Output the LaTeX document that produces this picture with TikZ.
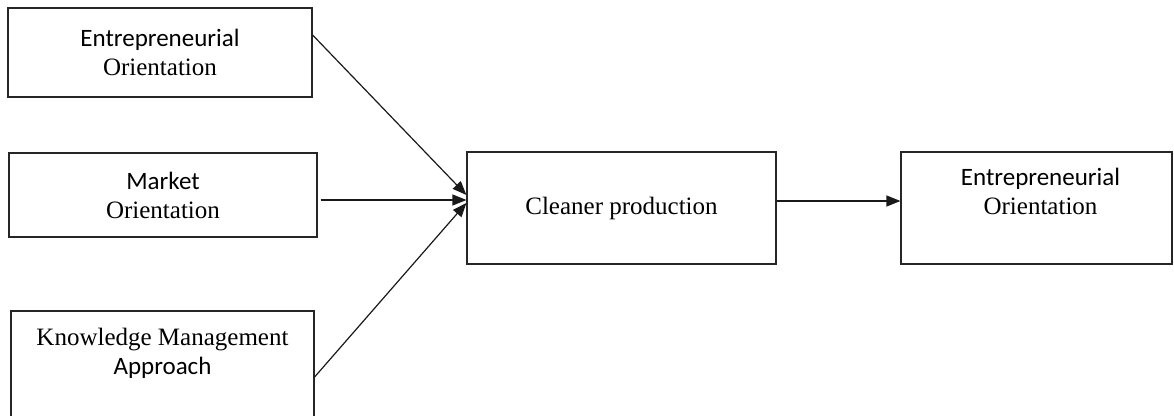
\documentclass[tikz,border=0pt]{standalone}
\usepackage{fontspec}
\setmainfont{Liberation Serif}
\setsansfont{Carlito}
\usepackage{tikz}
\usetikzlibrary{positioning, arrows.meta}

\begin{document}
\begin{tikzpicture}[x=1pt, y=-1pt,
        box/.style = {draw=black!85, line width=1.2pt, inner sep=0pt},
        txt/.style = {align=center, font=\fontsize{25}{29}\selectfont},
        >={Triangle[length=14pt, width=11pt]},
        link/.style = {->, line width=1.2pt, black!90}]
            \useasboundingbox (0,0) rectangle (1174,415);
            \node [box, minimum width=304pt, minimum height=89pt, txt] (EO) at (160,52.5) {{\sffamily Entrepreneurial}\\Orientation};
            \node [box, minimum width=308pt, minimum height=84pt, txt] (MO) at (163,195) {{\sffamily Market}\\Orientation};
            \node [box, minimum width=303pt, minimum height=114pt] (KM) at (162.5,368) {};
            \node [txt, anchor=north] (KMtext) at ([yshift=-14.5pt]KM.north) {Knowledge Management\\{\sffamily Approach}};
            \node [box, minimum width=309pt, minimum height=112pt, txt] (CP) at (621.5,208) {Cleaner production};
            \node [box, minimum width=271pt, minimum height=112pt] (EO2) at (1036.5,208) {};
            \node [txt, anchor=north] (EO2text) at ([xshift=4pt, yshift=-13pt]EO2.north) {{\sffamily Entrepreneurial}\\Orientation};
            \draw [link] ([yshift=17.5pt]EO.east) -- ([yshift=13pt]CP.west);
            \draw [link] ([xshift=3pt, yshift=-5pt]MO.east) -- ([yshift=8pt]CP.west);
            \draw [link] ([yshift=-9pt]KM.east) -- ([yshift=5pt]CP.west);
            \draw [link] ([yshift=7pt]CP.east) -- ([yshift=7pt]EO2.west);
        \end{tikzpicture}
\end{document}
